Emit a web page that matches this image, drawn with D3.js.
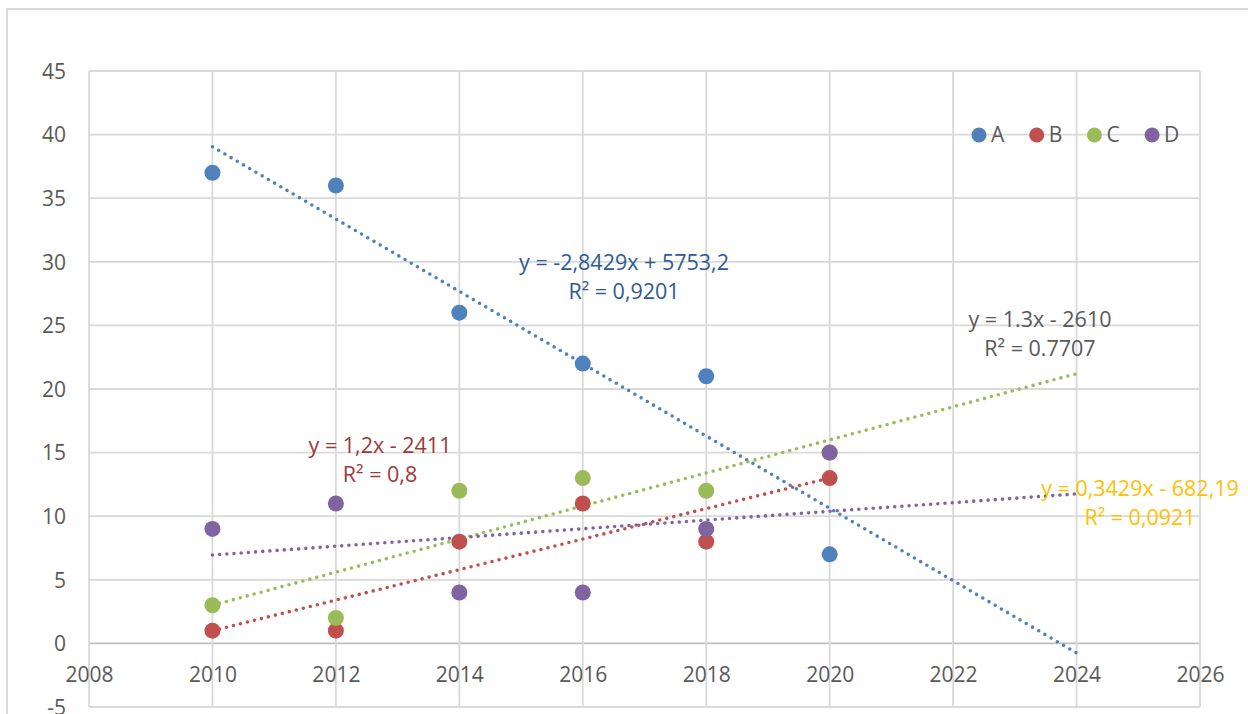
<!DOCTYPE html>
<html>
<head>
<meta charset="utf-8">
<script src="https://cdn.jsdelivr.net/npm/d3@7"></script>
<style>
  html, body { margin: 0; padding: 0; background: #fff; overflow: hidden; }
  svg { display: block; }
  text { font-family: "Open Sans", "Liberation Sans", sans-serif; }
</style>
</head>
<body>
<svg id="chart" width="1248" height="714"></svg>
<script>
// ---- data ----
const years = [2010, 2012, 2014, 2016, 2018, 2020];
const seriesNames = ["A", "B", "C", "D"];
const valuesA = [37, 36, 26, 22, 21, 7];
const valuesB = [1, 1, 8, 11, 8, 13];
const valuesC = [3, 2, 12, 13, 12, 15];
const valuesD = [9, 11, 4, 4, 9, 15];
const trendForward = [4, 0, 4, 4]; // forecast periods (years) forward per series
const equationLabels = ["y = -2,8429x + 5753,2", "y = 1,2x - 2411", "y = 1.3x - 2610", "y = 0,3429x - 682,19"];
const r2Labels = ["R² = 0,9201", "R² = 0,8", "R² = 0.7707", "R² = 0,0921"];
const xTicks = [2008, 2010, 2012, 2014, 2016, 2018, 2020, 2022, 2024, 2026];
const yTicks = [-5, 0, 5, 10, 15, 20, 25, 30, 35, 40, 45];

// ---- styling / layout ----
const colors = ["#4F81BD", "#C0504D", "#9BBB59", "#8064A2"];
const labelColors = ["#2E5A92", "#9C3A37", "#595959", "#FFC000"];
const labelPos = [[624, 262], [380, 445], [1040, 319], [1140, 488]];
const allValues = [valuesA, valuesB, valuesC, valuesD];

const svg = d3.select("#chart");
const x = d3.scaleLinear().domain([2008, 2026]).range([89, 1200]);
const y = d3.scaleLinear().domain([-5, 45]).range([707, 71]);

// outer chart border
svg.append("rect").attr("x", 7).attr("y", 9).attr("width", 1300).attr("height", 800)
  .attr("fill", "none").attr("stroke", "#d9d9d9").attr("stroke-width", 2);

// gridlines
const grid = svg.append("g");
grid.selectAll("line.h").data(yTicks).join("line")
  .attr("x1", x(2008)).attr("x2", x(2026))
  .attr("y1", d => y(d)).attr("y2", d => y(d))
  .attr("stroke", d => d === 0 ? "#bfbfbf" : "#d9d9d9").attr("stroke-width", 1.8);
grid.selectAll("line.v").data(xTicks).join("line")
  .attr("x1", d => x(d)).attr("x2", d => x(d))
  .attr("y1", y(45)).attr("y2", y(-5))
  .attr("stroke", "#d9d9d9").attr("stroke-width", 1.8);

// axes labels
const yAxis = d3.axisLeft(y).tickValues(yTicks).tickFormat(d => String(d)).tickSize(0).tickPadding(0);
const gy = svg.append("g").attr("transform", "translate(66,0)").call(yAxis);
gy.select(".domain").remove();
gy.selectAll("text").attr("font-size", 21).attr("fill", "#595959")
  .attr("font-family", "'Open Sans', sans-serif").attr("dy", "0.35em");

const xAxis = d3.axisBottom(x).tickValues(xTicks).tickFormat(d => String(d)).tickSize(0).tickPadding(0);
const gx = svg.append("g").attr("transform", `translate(0,${y(0)})`).call(xAxis);
gx.select(".domain").remove();
gx.selectAll("text").attr("font-size", 21).attr("fill", "#595959")
  .attr("font-family", "'Open Sans', sans-serif").attr("dy", "0").attr("y", 39);

// trendlines (least squares from data)
function linReg(xs, ys) {
  const n = xs.length, mx = d3.mean(xs), my = d3.mean(ys);
  let sxy = 0, sxx = 0;
  for (let i = 0; i < n; i++) { sxy += (xs[i] - mx) * (ys[i] - my); sxx += (xs[i] - mx) ** 2; }
  const m = sxy / sxx; return { m, b: my - m * mx };
}
const trends = svg.append("g");
allValues.forEach((vals, i) => {
  const r = linReg(years, vals);
  const x0 = d3.min(years), x1 = d3.max(years) + trendForward[i];
  trends.append("line")
    .attr("x1", x(x0)).attr("y1", y(r.m * x0 + r.b))
    .attr("x2", x(x1)).attr("y2", y(r.m * x1 + r.b))
    .attr("stroke", colors[i]).attr("stroke-width", 3.6)
    .attr("stroke-linecap", "round").attr("stroke-dasharray", "0 7.2");
});

// points
allValues.forEach((vals, i) => {
  svg.append("g").selectAll("circle").data(vals).join("circle")
    .attr("cx", (d, j) => x(years[j])).attr("cy", d => y(d)).attr("r", 8)
    .attr("fill", colors[i]);
});

// equation labels
allValues.forEach((vals, i) => {
  const g = svg.append("g").attr("fill", labelColors[i]).attr("font-size", 21.5).attr("text-anchor", "middle");
  g.append("text").attr("x", labelPos[i][0]).attr("y", labelPos[i][1]).attr("dy", "0.35em").text(equationLabels[i]);
  g.append("text").attr("x", labelPos[i][0]).attr("y", labelPos[i][1] + 29).attr("dy", "0.35em").text(r2Labels[i]);
});

// legend
const legend = svg.append("g").attr("transform", "translate(979,135)");
seriesNames.forEach((name, i) => {
  const g = legend.append("g").attr("transform", `translate(${i * 57.7},0)`);
  g.append("circle").attr("r", 7.5).attr("fill", colors[i]);
  g.append("text").attr("x", 12).attr("dy", "0.35em").attr("font-size", 21).attr("fill", "#595959").text(name);
});
</script>
</body>
</html>
